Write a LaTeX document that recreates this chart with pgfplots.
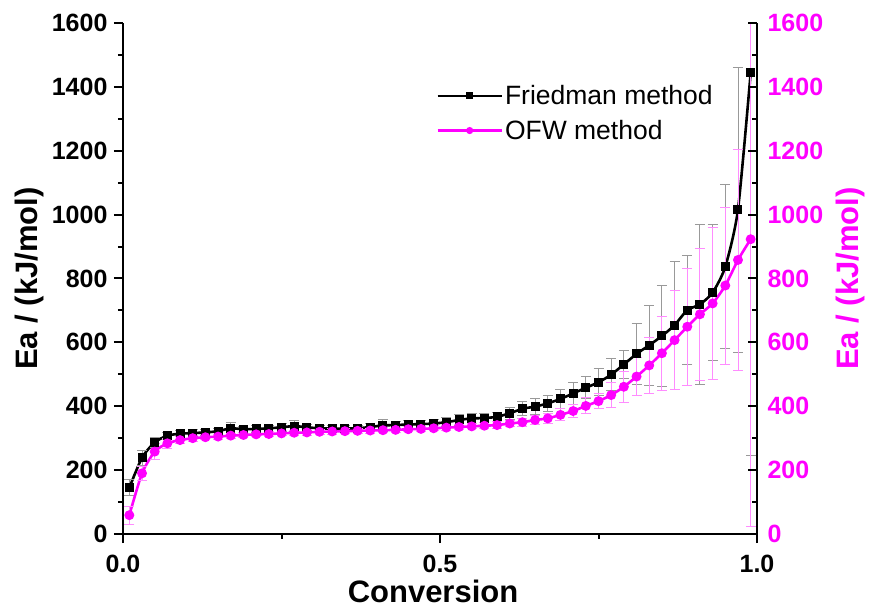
\documentclass[border=0pt]{standalone}
\usepackage{fontspec}
\setmainfont{Liberation Sans}
\usepackage{pgfplots}
\pgfplotsset{compat=1.18}
\usepackage{pgfplotstable}
\definecolor{mag}{RGB}{255,0,255}

\pgfplotstableread{
x F Fe O Oe
0.01 145 25 59 28
0.03 239 24 190 22
0.05 287 15 258 26
0.07 308 10 284 15
0.09 314 10 294 12
0.11 316 10 300 10
0.13 318 10 303 8
0.15 322 10 305 8
0.17 331 18 308 8
0.19 328 10 310 8
0.21 329 10 312 8
0.23 331 10 313 8
0.25 334 12 315 8
0.27 338 18 317 8
0.29 334 10 318 8
0.31 331 10 320 8
0.33 330 10 321 8
0.35 330 10 322 8
0.37 331 10 323 8
0.39 335 12 324 8
0.41 340 18 325 8
0.43 341 12 326 8
0.45 343 12 328 8
0.47 344 12 329 8
0.49 346 12 331 8
0.51 350 14 333 8
0.53 357 16 335 8
0.55 362 16 337 8
0.57 363 14 339 10
0.59 367 14 341 10
0.61 378 18 346 10
0.63 392 22 350 12
0.65 399 26 357 14
0.67 409 24 362 15
0.69 423 30 373 19
0.71 440 34 385 21
0.73 458 34 401 25
0.75 475 42 416 24
0.77 499 51 435 39
0.79 531 45 461 48
0.81 564 96 493 59
0.83 591 126 528 87
0.85 620 158 566 116
0.87 654 200 607 155
0.89 701 170 649 183
0.91 719 250 688 207
0.93 756 213 722 238
0.95 837 257 778 246
0.97 1016 446 858 345
0.99 1444 1198 923 900
}\data

\begin{document}
\begin{tikzpicture}
\pgfplotsset{
  common/.style={
    scale only axis, width=634pt, height=511pt,
    xmin=0, xmax=1, ymin=0, ymax=1600,
    ytick={0,200,...,1600}, minor ytick={100,300,...,1500},
    major tick length=9pt, minor tick length=5pt,
    every tick/.style={line width=2pt, black},
    /pgf/number format/assume math mode=true,
    /pgf/number format/1000 sep={},
    ticklabel style={font=\fontsize{25}{29}\selectfont\bfseries},
  },
  nolinearrows/.style={
    axis line style={-, line width=2.6pt, black},
    every outer x axis line/.append style={-},
    every outer y axis line/.append style={-},
    every inner x axis line/.append style={-},
    every inner y axis line/.append style={-},
  }
}
\begin{axis}[common,
  name=main,
  axis x line=bottom, axis y line=left, nolinearrows,
  tick align=outside,
  xtick={0,0.5,1}, xticklabels={0.0,0.5,1.0}, minor xtick={0.25,0.75},
  xticklabel style={yshift=-9pt},
  yticklabel style={xshift=-3pt},
  xlabel={Conversion}, ylabel={Ea / (kJ/mol)},
  xlabel style={at={(axis description cs:0.489,-0.113)}, anchor=center, inner sep=0pt,
    font=\fontsize{31}{36}\selectfont\bfseries},
  ylabel style={at={(axis description cs:-0.147,0.5)}, anchor=center,
    font=\fontsize{31}{36}\selectfont\bfseries},
  legend style={draw=none, fill=none, at={(0.494,0.882)}, anchor=north west,
    font=\fontsize{26.5}{30}\selectfont, row sep=10pt, inner sep=0pt},
  legend cell align=left,
  legend image code/.code={\draw[mark repeat=2,mark phase=2,#1, mark size=2.2pt] plot coordinates {(0pt,0pt) (32pt,0pt) (64pt,0pt)};},
]
\addplot[black, line width=2.6pt, smooth, tension=0.4, mark=square*, mark size=3.2pt,
  error bars/.cd, y dir=both, y explicit,
  error bar style={black!40, line width=0.9pt, solid},
  error mark options={rotate=90, mark size=5pt, black!40, line width=0.9pt}]
  table[x=x, y=F, y error=Fe]{\data};
\addlegendentry{Friedman method}
\addplot[mag, line width=2.6pt, smooth, tension=0.4, mark=*, mark size=3.6pt,
  error bars/.cd, y dir=both, y explicit,
  error bar style={mag!45, line width=0.9pt, solid},
  error mark options={rotate=90, mark size=5pt, mag!45, line width=0.9pt}]
  table[x=x, y=O, y error=Oe]{\data};
\addlegendentry{OFW method}
\end{axis}
\begin{axis}[common,
  axis x line=none, axis y line=right, nolinearrows,
  tick align=inside,
  yticklabel style={text=mag, xshift=7pt},
  ylabel={Ea / (kJ/mol)},
  ylabel style={at={(axis description cs:1.148,0.5)}, anchor=center,
    font=\fontsize{31}{36}\selectfont\bfseries, text=mag},
]
\end{axis}
\pgfresetboundingbox
\path[use as bounding box] ([xshift=-123pt,yshift=-75pt]main.south west) rectangle ([xshift=115pt,yshift=23pt]main.north east);
\end{tikzpicture}
\end{document}
